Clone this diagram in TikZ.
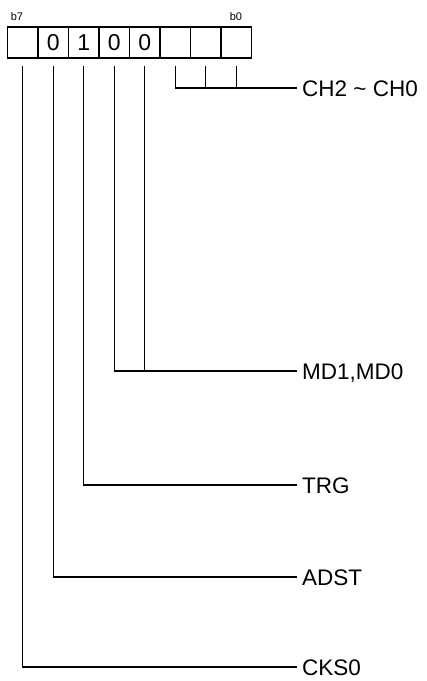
\documentclass[tikz,border=0pt]{standalone}
\usepackage{fontspec}
\setmainfont{Liberation Sans}
\begin{document}
\begin{tikzpicture}[x=1pt,y=-1pt,
  cell/.style={draw,line width=1.2pt,minimum width=30.5pt,minimum height=31pt,inner sep=0pt,anchor=center,font=\fontsize{23}{24}\selectfont},
  lbl/.style={anchor=west,inner xsep=5pt,inner ysep=0pt,text height=16pt,text depth=0pt,font=\fontsize{22.5}{24}\selectfont},
  bit/.style={font=\fontsize{11}{12}\selectfont,inner sep=0pt},
  wire/.style={line width=1.2pt}]
\useasboundingbox (0,0) rectangle (427,681);
\foreach \i/\t in {7/,6/0,5/1,4/0,3/0,2/,1/,0/}{
  \node[cell] (c\i) at ({7.5+30.5*(7-\i)+15.25},42.5) {\t};
}
\node[bit] (b7) at (17,17) {b7};
\node[bit] (b0) at (236,17) {b0};
\foreach \i in {0,...,7}{\coordinate (s\i) at ([yshift=-7pt]c\i.south);}
\node[lbl] (lch) at (297,88) {CH2 \~{} CH0};
\node[lbl] (lmd) at (297,371) {MD1,MD0};
\node[lbl] (ltrg) at (297,485) {TRG};
\node[lbl] (ladst) at (297,577) {ADST};
\node[lbl] (lcks) at (297,667) {CKS0};
\draw[wire] (s2) |- (lch.west);
\draw[wire] (s1) -- (s1 |- lch.west);
\draw[wire] (s0) -- (s0 |- lch.west);
\draw[wire] (s4) |- (lmd.west);
\draw[wire] (s3) -- (s3 |- lmd.west);
\draw[wire] (s5) |- (ltrg.west);
\draw[wire] (s6) |- (ladst.west);
\draw[wire] (s7) |- (lcks.west);
\end{tikzpicture}
\end{document}
